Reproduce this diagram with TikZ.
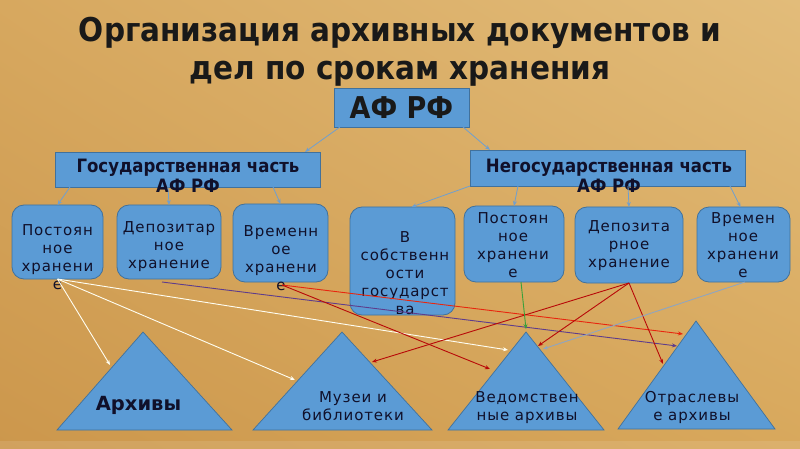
\documentclass[tikz,border=0pt]{standalone}
\usepackage{fontspec}
\setmainfont{DejaVu Sans}
\newfontfamily\boxfont{DejaVu Sans}[LetterSpace=6]
\newfontfamily\condb{DejaVu Sans Condensed Bold}
\newfontfamily\dvb{DejaVu Sans Bold}
\usetikzlibrary{arrows.meta,shadings}
\definecolor{boxblue}{HTML}{5B9BD5}
\definecolor{boxline}{HTML}{41719C}
\definecolor{txt}{HTML}{10102A}
\definecolor{bgA}{HTML}{CC974C}
\definecolor{bgB}{HTML}{E2BC7A}
\definecolor{bgC}{HTML}{D7A85F}
\definecolor{bgD}{HTML}{D8A85C}
\definecolor{topc}{HTML}{6F9FCF}
\definecolor{purp}{HTML}{5E3C8C}
\definecolor{bred}{HTML}{E8260E}
\definecolor{dred}{HTML}{B80808}
\definecolor{grn}{HTML}{3AA03A}
\definecolor{gblue}{HTML}{8FA5C0}
\begin{document}
\begin{tikzpicture}[x=1pt,y=-1pt,
  box/.style={draw=boxline, fill=boxblue, line width=0.8pt, inner sep=0pt, outer sep=0pt},
  rbox/.style={box, rounded corners=12pt},
  btext/.style={text=txt, font=\boxfont\fontsize{15}{18}\selectfont, align=center, inner sep=0pt},
  htext/.style={text=txt, font=\condb\fontsize{18.4}{20}\selectfont, align=center, inner sep=0pt},
  tri/.style={fill=boxblue, draw=boxline, line width=0.7pt},
  conn/.style={line width=0.9pt, -{Stealth[length=5pt,width=4pt]}}]
\useasboundingbox (0,0) rectangle (800,449);
\shade[lower left=bgA, upper right=bgB, upper left=bgC, lower right=bgD] (0,0) rectangle (800,449);
\fill[white, opacity=0.1] (0,441) rectangle (800,449);

% title
\node[text=black!90, font=\condb\fontsize{32.8}{38}\selectfont, align=center, inner sep=0pt] (title) at (400,52)
  {Организация архивных документов и\\дел по срокам хранения};

% top
\node[box, minimum width=135pt, minimum height=39pt] (af) at (401.5,107.5)
  {\condb\fontsize{30}{36}\selectfont\color{black!90}АФ РФ};
\node[box, minimum width=265pt, minimum height=35pt] (gov) at (187.5,169.5) {};
\node[htext] (govt) at (188,175.5) {Государственная часть\\АФ РФ};
\node[box, minimum width=275pt, minimum height=36pt] (ngov) at (607.5,168) {};
\node[htext] (ngovt) at (609,175.5) {Негосударственная часть\\АФ РФ};

% storage boxes
\node[rbox, minimum width=91pt, minimum height=74pt] (b1) at (57.5,242) {};
\node[rbox, minimum width=104pt, minimum height=74pt] (b2) at (169,242) {};
\node[rbox, minimum width=95pt, minimum height=78pt] (b3) at (280.5,243) {};
\node[rbox, minimum width=105pt, minimum height=108pt] (b4) at (402.5,261) {};
\node[rbox, minimum width=100pt, minimum height=76pt] (b5) at (514,244) {};
\node[rbox, minimum width=108pt, minimum height=76pt] (b6) at (629,245) {};
\node[rbox, minimum width=93pt, minimum height=75pt] (b7) at (743.5,244.5) {};

\node[btext] (t1) at (57.5,257) {Постоян\\ное\\хранени\\е};
\node[btext] (t2) at (169,246.5) {Депозитар\\ное\\хранение};
\node[btext] (t3) at (281,258.5) {Временн\\ое\\хранени\\е};
\node[btext] (t4) at (405,273) {В\\собственн\\ости\\государст\\ва};
\node[btext] (t5) at (513,245.5) {Постоян\\ное\\хранени\\е};
\node[btext] (t6) at (629,245.5) {Депозита\\рное\\хранение};
\node[btext] (t7) at (743,245.5) {Времен\\ное\\хранени\\е};

% triangles
\draw[tri] (143,332) coordinate (T1) -- (57,430) -- (232,430) -- cycle;
\draw[tri] (342,332) coordinate (T2) -- (253,430) -- (432,430) -- cycle;
\draw[tri] (526,332) coordinate (T3) -- (448,430) -- (604,430) -- cycle;
\draw[tri] (696,321) coordinate (T4) -- (618,429) -- (775,429) -- cycle;
\node[text=txt, font=\dvb\fontsize{19.5}{22}\selectfont, inner sep=0pt] (l1) at (138.5,405) {Архивы};
\node[btext] (l2) at (353,406) {Музеи и\\библиотеки};
\node[btext] (l3) at (527,407.5) {Ведомствен\\ные архивы};
\node[btext] (l4) at (692,407.5) {Отраслевы\\е архивы};

% hierarchy connectors
\begin{scope}[conn, topc, line width=0.8pt]
\draw ([xshift=6pt]af.south west) -- ([xshift=250pt]gov.north west);
\draw ([xshift=-6pt]af.south east) -- ([xshift=20pt]ngov.north west);
\draw ([xshift=15pt]gov.south west) -- (b1.north);
\draw ([xshift=113pt]gov.south west) -- (b2.north);
\draw ([xshift=218pt]gov.south west) -- (b3.north);
\draw (ngov.south west) -- ([xshift=9pt]b4.north);
\draw ([xshift=48pt]ngov.south west) -- (b5.north);
\draw ([xshift=158pt]ngov.south west) -- (b6.north);
\draw ([xshift=260pt]ngov.south west) -- ([xshift=-3pt]b7.north);
\end{scope}

% targets
\coordinate (w1) at (110,365);
\coordinate (w2) at (295,380);
\coordinate (w3) at (508,350);
\coordinate (p1) at (677,346);
\coordinate (r1) at (683,334);
\coordinate (r2) at (490,369);
\coordinate (d1) at (372,362);
\coordinate (d2) at (538,346);
\coordinate (d3) at (663,364);
\coordinate (g1) at (526,329);
\coordinate (gb) at (543,349);
\coordinate (s3) at (282,285);

\draw[conn, white!95!yellow] (b1.south) -- (w1);
\draw[conn, white!95!yellow] (b1.south) -- (w2);
\draw[conn, white!95!yellow] (b1.south) -- (w3);
\draw[conn, purp] ([shift={(-7pt,-3pt)}]b2.south) -- (p1);
\draw[conn, bred] (s3) -- (r1);
\draw[conn, dred] (s3) -- (r2);
\draw[conn, dred] (b6.south) -- (d1);
\draw[conn, dred] (b6.south) -- (d2);
\draw[conn, dred] (b6.south) -- (d3);
\draw[conn, grn] ([xshift=7pt]b5.south) -- (g1);
\draw[conn, gblue] ([xshift=1.5pt]b7.south) -- (gb);
\end{tikzpicture}
\end{document}
